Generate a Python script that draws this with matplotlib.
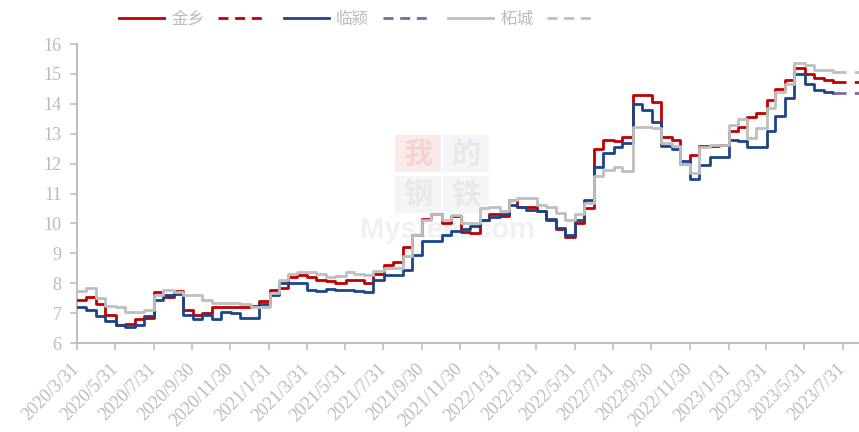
import matplotlib
matplotlib.use("Agg")
import matplotlib.pyplot as plt
import pandas as pd
from matplotlib.lines import Line2D
from matplotlib.patches import Rectangle

plt.rcParams['font.family'] = ['Liberation Serif', 'Noto Sans CJK SC']

# half-monthly prices, 2020/4/1 .. 2023/7/15
dates = pd.date_range('2020-04-01', '2023-07-15', freq='SMS')

jinxiang = [
    7.45, 7.55, 7.3, 6.95, 6.6, 6.65, 6.8, 6.83, 7.7, 7.55,
    7.75, 7.1, 6.95, 7.0, 7.2, 7.2, 7.2, 7.2, 7.25, 7.4,
    7.77, 7.85, 8.2, 8.27, 8.2, 8.1, 8.08, 8.0, 8.1, 8.1,
    8.0, 8.3, 8.6, 8.72, 9.2, 9.6, 10.15, 10.33, 10.0, 10.25,
    9.7, 9.67, 10.1, 10.33, 10.25, 10.8, 10.55, 10.55, 10.4, 10.1,
    9.8, 9.55, 10.0, 10.5, 12.5, 12.8, 12.75, 12.9, 14.3, 14.3,
    14.07, 12.9, 12.8, 12.0, 12.3, 12.6, 12.6, 12.62, 13.1, 13.23,
    13.57, 13.7, 14.13, 14.5, 14.8, 15.2, 15.0, 14.85, 14.8, 14.72,
]
linying = [
    7.2, 7.1, 6.9, 6.75, 6.6, 6.55, 6.6, 6.9, 7.45, 7.6,
    7.65, 6.95, 6.8, 6.95, 6.8, 7.05, 7.0, 6.83, 6.83, 7.3,
    7.6, 8.0, 8.0, 8.0, 7.77, 7.75, 7.8, 7.77, 7.77, 7.75,
    7.72, 8.1, 8.27, 8.27, 8.43, 8.95, 9.4, 9.42, 9.6, 9.75,
    9.83, 9.9, 10.1, 10.2, 10.3, 10.6, 10.55, 10.45, 10.4, 10.15,
    9.85, 9.6, 10.1, 10.8, 11.9, 12.35, 12.55, 12.7, 14.0, 13.8,
    13.4, 12.6, 12.5, 12.1, 11.5, 11.95, 12.23, 12.23, 12.8, 12.75,
    12.57, 12.55, 13.1, 13.6, 14.2, 15.0, 14.65, 14.46, 14.4, 14.35,
]
zhecheng = [
    7.75, 7.85, 7.5, 7.25, 7.2, 7.05, 7.05, 7.1, 7.6, 7.77,
    7.7, 7.6, 7.6, 7.45, 7.33, 7.33, 7.33, 7.3, 7.2, 7.2,
    7.66, 8.1, 8.3, 8.38, 8.38, 8.3, 8.22, 8.25, 8.38, 8.3,
    8.27, 8.4, 8.5, 8.5, 8.9, 9.6, 10.1, 10.33, 10.1, 10.27,
    10.0, 10.0, 10.5, 10.55, 10.4, 10.8, 10.85, 10.85, 10.6, 10.55,
    10.35, 10.1, 10.3, 10.7, 11.6, 11.78, 11.9, 11.75, 13.23, 13.23,
    13.2, 12.7, 12.6, 12.0, 11.7, 12.57, 12.62, 12.62, 13.3, 13.5,
    12.85, 13.2, 13.85, 14.4, 14.68, 15.35, 15.3, 15.13, 15.13, 15.07,
]

# forecast (dashed) part
fc_dates = pd.to_datetime(['2023-07-15', '2023-08-31'])
jinxiang_fc = [14.72, 14.72]
linying_fc = [14.35, 14.35]
zhecheng_fc = [15.07, 15.07]

names = ['金乡', '临颍', '柘城']
solid_colors = ['#C00000', '#1B448C', '#BFBFBF']
dash_colors = ['#C00000', '#7B6A9E', '#BFBFBF']

tick_dates = pd.date_range('2020-03-31', '2023-07-31', freq=pd.offsets.MonthEnd(2))
tick_labels = [f'{d.year}/{d.month}/{d.day}' for d in tick_dates]

grey = '#BFBFBF'
dash = (0, (4.7, 3.0))
legend_dash = (0, (3.6, 2.4))

fig = plt.figure(figsize=(8.59, 4.32), dpi=100)
ax = fig.add_axes([0.0896, 0.206, 0.9104, 0.692])
ax.patch.set_alpha(0)

# watermark (boxes in figure pixels)
W, H = 859, 432
marks = [('我', 395, 135, '#FBEAEA', '#F4D3D3'),
         ('的', 443, 135, '#F4F5F7', '#E6E8EC'),
         ('钢', 395, 176, '#F4F5F7', '#E6E8EC'),
         ('铁', 443, 176, '#F4F5F7', '#E6E8EC')]
for ch, px, py, box_c, ch_c in marks:
    ax.add_patch(Rectangle((px / W, 1 - (py + 37) / H), 46 / W, 37 / H,
                           transform=fig.transFigure, facecolor=box_c,
                           edgecolor='none', zorder=0))
    ax.text((px + 23) / W, 1 - (py + 18.5) / H, ch, transform=fig.transFigure,
            ha='center', va='center', fontsize=21, color=ch_c,
            family='Noto Sans CJK SC', weight='bold', zorder=0.5)
ax.text(360 / W, 1 - 230 / H, 'Mysteel.com', transform=fig.transFigure,
        ha='left', va='center', fontsize=21, color='#F1F1F1',
        family='Liberation Sans', weight='bold', zorder=0.5)

series = [jinxiang, linying, zhecheng]
fcs = [jinxiang_fc, linying_fc, zhecheng_fc]
handles = []
labels = []
for name, vals, fc, c1, c2 in zip(names, series, fcs, solid_colors, dash_colors):
    ax.plot(dates, vals, drawstyle='steps-post', color=c1, lw=2.0, zorder=3)
    ax.plot(fc_dates, fc, color=c2, lw=2.0, ls=dash, dash_capstyle='butt', zorder=3)
    handles.append(Line2D([], [], color=c1, lw=2.0))
    labels.append(name)
    handles.append(Line2D([], [], color=c2, lw=2.0, ls=legend_dash, dash_capstyle='butt'))
    labels.append('')

ax.set_ylim(6, 16)
ax.set_yticks(range(6, 17))
ax.set_xlim(pd.Timestamp('2020-03-31'), pd.Timestamp('2023-08-26'))
ax.set_xticks(tick_dates)
ax.set_xticklabels(tick_labels, rotation=45, ha='right', va='center',
                   rotation_mode='anchor')

for s in ['top', 'right']:
    ax.spines[s].set_visible(False)
for s in ['left', 'bottom']:
    ax.spines[s].set_color(grey)
    ax.spines[s].set_linewidth(1.5)
ax.tick_params(axis='both', colors=grey, labelcolor='#BBBBBB', labelsize=13,
               length=5, width=1.2, direction='out')
ax.tick_params(axis='y', pad=6)
ax.tick_params(axis='x', pad=12)

fig.legend(handles, labels, loc='center', bbox_to_anchor=(0.418, 0.954), ncol=6,
           frameon=False, fontsize=12, handlelength=2.7, handletextpad=0.42,
           columnspacing=0.82, labelcolor='#BBBBBB')

fig.savefig('out.png', dpi=100)
